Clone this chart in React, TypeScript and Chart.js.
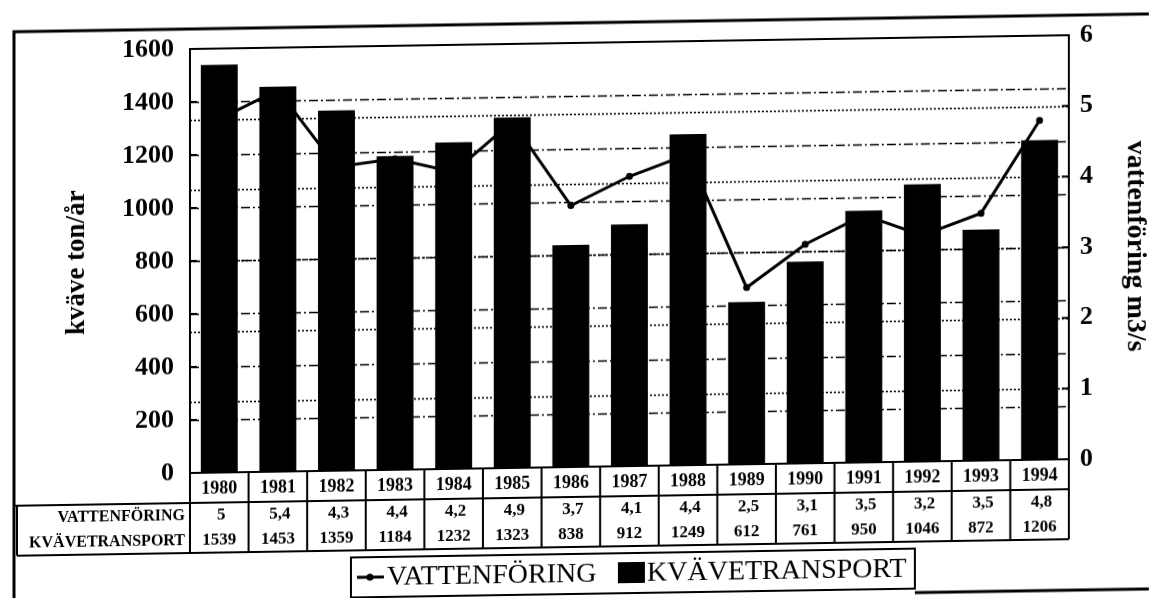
import React, { useEffect, useRef } from "react";
import { Chart, registerables } from "chart.js";

Chart.register(...registerables);

const years = ["1980", "1981", "1982", "1983", "1984", "1985", "1986", "1987", "1988", "1989", "1990", "1991", "1992", "1993", "1994"];
const vattenforing = [5, 5.4, 4.3, 4.4, 4.2, 4.9, 3.7, 4.1, 4.4, 2.5, 3.1, 3.5, 3.2, 3.5, 4.8];
const kvavetransport = [1539, 1453, 1359, 1184, 1232, 1323, 838, 912, 1249, 612, 761, 950, 1046, 872, 1206];
const rowHeaders = ["VATTENFÖRING", "KVÄVETRANSPORT"];
const leftAxisTitle = "kväve ton/år";
const rightAxisTitle = "vattenföring m3/s";
const leftMax = 1600;
const leftStep = 200;
const rightMax = 6;
const rightStep = 1;

const SERIF = "'Liberation Serif', 'Times New Roman', serif";

const fmt = (v: number) => String(v).replace(".", ",");

const decorPlugin = {
  id: "decor",
  beforeDatasetsDraw(chart: any) {
    const { ctx, chartArea: a, scales } = chart;
    const y = scales.y;
    const y1 = scales.y1;
    ctx.save();
    ctx.strokeStyle = "#000";
    ctx.lineWidth = 1.6;
    ctx.setLineDash([9, 3, 2, 3]);
    y.ticks.forEach((t: any) => {
      if (t.value <= 0 || t.value >= leftMax) return;
      const py = Math.round(y.getPixelForValue(t.value)) + 0.5;
      ctx.beginPath();
      ctx.moveTo(a.left, py);
      ctx.lineTo(a.right, py);
      ctx.stroke();
    });
    ctx.setLineDash([2, 2]);
    y1.ticks.forEach((t: any) => {
      if (t.value <= 0 || t.value >= rightMax) return;
      const py = Math.round(y1.getPixelForValue(t.value)) + 0.5;
      ctx.beginPath();
      ctx.moveTo(a.left, py);
      ctx.lineTo(a.right, py);
      ctx.stroke();
    });
    ctx.restore();
  },
  afterDraw(chart: any) {
    const { ctx, chartArea: a, scales } = chart;
    const x = scales.x;
    const y = scales.y;
    const y1 = scales.y1;
    const n = years.length;
    ctx.save();
    ctx.setLineDash([]);
    ctx.strokeStyle = "#000";
    ctx.fillStyle = "#000";

    // plot border
    ctx.lineWidth = 2;
    ctx.strokeRect(a.left, a.top, a.right - a.left, a.bottom - a.top);

    // inner ticks
    ctx.lineWidth = 2;
    y.ticks.forEach((t: any) => {
      const py = y.getPixelForValue(t.value);
      ctx.beginPath();
      ctx.moveTo(a.left, py);
      ctx.lineTo(a.left + 7, py);
      ctx.stroke();
    });
    y1.ticks.forEach((t: any) => {
      const py = y1.getPixelForValue(t.value);
      ctx.beginPath();
      ctx.moveTo(a.right, py);
      ctx.lineTo(a.right - 7, py);
      ctx.stroke();
    });

    // data table
    const rowTop = a.bottom;
    const rowYearBottom = 503;
    const rowMid = 528;
    const rowBottom = 553;
    const bounds: number[] = [a.left];
    for (let i = 1; i < n; i++) {
      bounds.push((x.getPixelForValue(i - 1) + x.getPixelForValue(i)) / 2);
    }
    bounds.push(a.right);

    ctx.lineWidth = 2;
    ctx.beginPath();
    ctx.moveTo(14, rowYearBottom);
    ctx.lineTo(a.right, rowYearBottom);
    ctx.moveTo(17, rowBottom);
    ctx.lineTo(a.right, rowBottom);
    ctx.stroke();
    ctx.beginPath();
    bounds.forEach((bx) => {
      ctx.moveTo(bx, rowTop);
      ctx.lineTo(bx, rowBottom);
    });
    ctx.moveTo(17, rowYearBottom);
    ctx.lineTo(17, rowBottom);
    ctx.stroke();

    ctx.textAlign = "center";
    ctx.textBaseline = "middle";
    ctx.font = `bold 18px ${SERIF}`;
    years.forEach((yr, i) => {
      ctx.fillText(yr, x.getPixelForValue(i), (rowTop + rowYearBottom) / 2 + 1);
    });
    ctx.font = `bold 17px ${SERIF}`;
    vattenforing.forEach((v, i) => {
      ctx.fillText(fmt(v), x.getPixelForValue(i) + 2, (rowYearBottom + rowMid) / 2);
    });
    kvavetransport.forEach((v, i) => {
      ctx.fillText(fmt(v), x.getPixelForValue(i), (rowMid + rowBottom) / 2);
    });
    ctx.textAlign = "right";
    ctx.font = `bold 16px ${SERIF}`;
    ctx.fillText(rowHeaders[0], a.left - 5, (rowYearBottom + rowMid) / 2);
    ctx.fillText(rowHeaders[1], a.left - 5, (rowMid + rowBottom) / 2);

    // legend
    const lx0 = 351;
    const lx1 = 915;
    const ly0 = 560;
    const ly1 = 600;
    const lyc = (ly0 + ly1) / 2;
    ctx.lineWidth = 2;
    ctx.strokeRect(lx0, ly0, lx1 - lx0, ly1 - ly0);
    ctx.lineWidth = 3;
    ctx.beginPath();
    ctx.moveTo(357, lyc);
    ctx.lineTo(384, lyc);
    ctx.stroke();
    ctx.beginPath();
    ctx.arc(370, lyc, 3.5, 0, Math.PI * 2);
    ctx.fill();
    ctx.font = `28px ${SERIF}`;
    ctx.textAlign = "left";
    ctx.textBaseline = "middle";
    ctx.fillText(chart.data.datasets[1].label, 387, lyc + 1);
    ctx.fillRect(618, lyc - 11, 27, 21);
    ctx.fillText(chart.data.datasets[0].label, 647, lyc + 1);

    // outer frame
    ctx.lineWidth = 3;
    ctx.beginPath();
    ctx.moveTo(14, 620);
    ctx.lineTo(14, 29);
    ctx.lineTo(1149, 29);
    ctx.moveTo(lx1, 604);
    ctx.lineTo(1149, 604);
    ctx.stroke();

    ctx.restore();
  },
};

export default function App() {
  const ref = useRef<HTMLCanvasElement | null>(null);

  useEffect(() => {
    if (!ref.current) return;
    const chart = new Chart(ref.current, {
      type: "bar",
      data: {
        labels: years,
        datasets: [
          {
            type: "bar",
            label: "KVÄVETRANSPORT",
            data: kvavetransport,
            yAxisID: "y",
            backgroundColor: "#000",
            borderWidth: 0,
            barPercentage: 0.63,
            categoryPercentage: 1,
            order: 2,
          },
          {
            type: "line",
            label: "VATTENFÖRING",
            data: vattenforing,
            yAxisID: "y1",
            borderColor: "#000",
            backgroundColor: "#000",
            borderWidth: 3,
            pointRadius: 3.5,
            pointBackgroundColor: "#000",
            pointBorderWidth: 0,
            tension: 0,
            order: 1,
          },
        ] as any,
      },
      options: {
        responsive: false,
        animation: false,
        devicePixelRatio: 1,
        layout: { padding: { top: 49, bottom: 147, left: 0, right: 0 } },
        plugins: { legend: { display: false }, tooltip: { enabled: false } },
        scales: {
          x: { display: false, offset: true },
          y: {
            position: "left",
            min: 0,
            max: leftMax,
            ticks: {
              stepSize: leftStep,
              padding: 16,
              color: "#000",
              font: { family: SERIF, size: 26, weight: "bold" },
              callback: (v: any) => String(v),
            },
            grid: { display: false, drawTicks: false },
            border: { display: false },
            title: {
              display: true,
              text: leftAxisTitle,
              color: "#000",
              font: { family: SERIF, size: 27, weight: "bold", lineHeight: 1 },
              padding: { top: 64, bottom: 0 },
            },
            afterFit(scale: any) {
              scale.width = 190;
            },
          },
          y1: {
            position: "right",
            min: 0,
            max: rightMax,
            ticks: {
              stepSize: rightStep,
              padding: 11,
              color: "#000",
              font: { family: SERIF, size: 26, weight: "bold" },
              callback: (v: any) => String(v),
            },
            grid: { display: false, drawTicks: false },
            border: { display: false },
            title: {
              display: true,
              text: rightAxisTitle,
              color: "#000",
              font: { family: SERIF, size: 28, weight: "bold", lineHeight: 1 },
              padding: { top: 0, bottom: 0 },
            },
            afterFit(scale: any) {
              scale.width = 80;
            },
          },
        },
      } as any,
      plugins: [decorPlugin],
    });
    return () => chart.destroy();
  }, []);

  return (
    <div
      style={{
        position: "fixed",
        left: 0,
        top: 0,
        width: 1149,
        height: 598,
        overflow: "hidden",
        background: "#fff",
      }}
    >
      <canvas
        ref={ref}
        width={1149}
        height={620}
        style={{
          display: "block",
          width: 1149,
          height: 620,
          transform: "skewY(-0.9deg)",
          transformOrigin: "190px 0",
        }}
      />
    </div>
  );
}
